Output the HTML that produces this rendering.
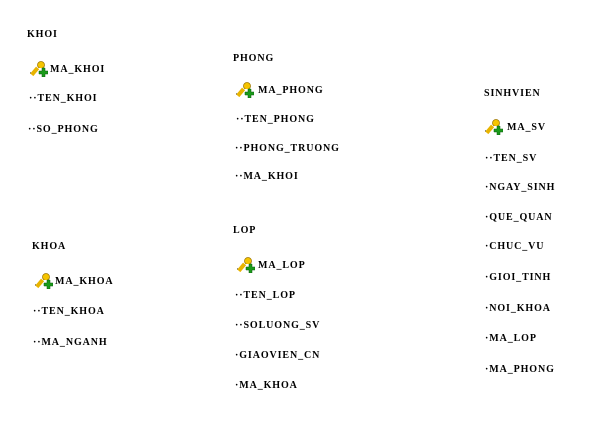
<!DOCTYPE html>
<html><head><meta charset="utf-8"><style>
body{margin:0;width:607px;height:444px;background:#fff;position:relative;overflow:hidden;font-family:"Liberation Serif",serif;font-weight:bold;font-size:10px;color:#000}
.t{position:absolute;white-space:nowrap;line-height:10px;letter-spacing:0.9px;margin-top:2px}
.k{position:absolute;width:18px;height:16px;margin-top:2px}
</style></head><body>
<svg width="0" height="0" style="position:absolute"><defs>
<g id="key"><line x1="0" y1="12" x2="3" y2="12" stroke="#000" stroke-dasharray="1 1"/><rect x="3" y="6" width="4" height="9" fill="#e8b400" transform="rotate(40 5 10)"/><circle cx="11" cy="4" r="3.5" fill="#f5c400" stroke="#a07800" stroke-width="0.8"/><rect x="9" y="7" width="8" height="8" fill="#fff"/><path d="M12 7h3v3h3v3h-3v3h-3v-3h-3v-3h3z" fill="#1a9a1a" stroke="#0a5a0a" stroke-width="0.5"/></g>
</defs></svg>

<div class="t" style="left:27px;top:28px">KHOI</div>
<svg class="k" style="left:30px;top:59px"><use href="#key"/></svg><div class="t" style="left:50px;top:63px">MA_KHOI</div>
<div class="t" style="left:29px;top:92px">··TEN_KHOI</div>
<div class="t" style="left:28px;top:123px">··SO_PHONG</div>

<div class="t" style="left:233px;top:52px">PHONG</div>
<svg class="k" style="left:236px;top:80px"><use href="#key"/></svg><div class="t" style="left:258px;top:84px">MA_PHONG</div>
<div class="t" style="left:236px;top:113px">··TEN_PHONG</div>
<div class="t" style="left:235px;top:142px">··PHONG_TRUONG</div>
<div class="t" style="left:235px;top:170px">··MA_KHOI</div>

<div class="t" style="left:484px;top:87px">SINHVIEN</div>
<svg class="k" style="left:485px;top:117px"><use href="#key"/></svg><div class="t" style="left:507px;top:121px">MA_SV</div>
<div class="t" style="left:485px;top:152px">··TEN_SV</div>
<div class="t" style="left:485px;top:181px">·NGAY_SINH</div>
<div class="t" style="left:485px;top:211px">·QUE_QUAN</div>
<div class="t" style="left:485px;top:240px">·CHUC_VU</div>
<div class="t" style="left:485px;top:271px">·GIOI_TINH</div>
<div class="t" style="left:485px;top:302px">·NOI_KHOA</div>
<div class="t" style="left:485px;top:332px">·MA_LOP</div>
<div class="t" style="left:485px;top:363px">·MA_PHONG</div>

<div class="t" style="left:32px;top:240px">KHOA</div>
<svg class="k" style="left:35px;top:271px"><use href="#key"/></svg><div class="t" style="left:55px;top:275px">MA_KHOA</div>
<div class="t" style="left:33px;top:305px">··TEN_KHOA</div>
<div class="t" style="left:33px;top:336px">··MA_NGANH</div>

<div class="t" style="left:233px;top:224px">LOP</div>
<svg class="k" style="left:237px;top:255px"><use href="#key"/></svg><div class="t" style="left:258px;top:259px">MA_LOP</div>
<div class="t" style="left:235px;top:289px">··TEN_LOP</div>
<div class="t" style="left:235px;top:319px">··SOLUONG_SV</div>
<div class="t" style="left:235px;top:349px">·GIAOVIEN_CN</div>
<div class="t" style="left:235px;top:379px">·MA_KHOA</div>
</body></html>
